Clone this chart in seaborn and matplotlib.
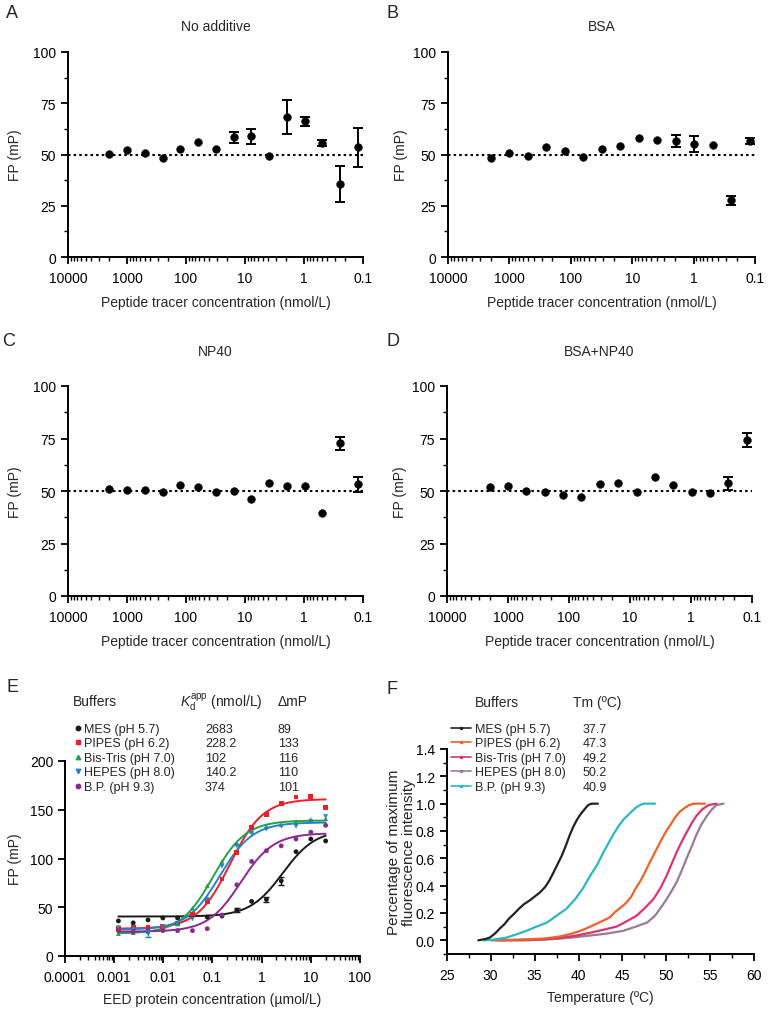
import numpy as np
import pandas as pd
import matplotlib
matplotlib.use("Agg")
import matplotlib.pyplot as plt
import seaborn as sns
from matplotlib.lines import Line2D
from matplotlib.ticker import (FixedLocator, FixedFormatter, LogLocator,
                               NullFormatter, MultipleLocator)

# ---------------- data ----------------
peptide_conc = [2000, 1000, 500, 250, 125, 62.5, 31.25, 15.63, 7.81, 3.91,
                1.95, 0.977, 0.488, 0.244, 0.122]
fp_none = [50.2, 52.3, 50.6, 48.1, 52.7, 55.9, 52.7, 58.3, 58.8, 49.1,
           68.1, 66.1, 55.6, 35.5, 53.5]
err_none = [0, 0, 0, 0, 0, 0, 0, 2.5, 3.5, 0, 8.3, 2.0, 1.5, 8.9, 9.6]
fp_bsa = [48.5, 50.6, 49.1, 53.8, 51.7, 48.8, 52.5, 54.3, 58.0, 57.1,
          56.7, 55.1, 54.6, 27.6, 56.4]
err_bsa = [0, 0, 0, 0, 0, 0, 0, 0, 0, 0, 3.0, 4.0, 0, 2.0, 1.5]
fp_np40 = [51.0, 50.3, 50.6, 49.5, 53.0, 51.7, 49.4, 50.2, 46.2, 53.7,
           52.2, 52.2, 39.5, 72.7, 53.2]
err_np40 = [0, 0, 0, 0, 0, 0, 0, 0, 0, 0, 0, 0, 0, 3.0, 3.5]
fp_bsa_np40 = [51.7, 52.5, 50.2, 49.7, 47.9, 47.3, 53.3, 54.0, 49.4, 56.8,
               52.9, 49.5, 49.0, 53.7, 74.3]
err_bsa_np40 = [0, 0, 0, 0, 0, 0, 0, 0, 0, 0, 0, 0, 0, 3.0, 3.5]
panel_titles = ["No additive", "BSA", "NP40", "BSA+NP40"]
peptide_ticks = [10000, 1000, 100, 10, 1, 0.1]
peptide_ticklabels = ["10000", "1000", "100", "10", "1", "0.1"]

# Panel E
buffers = ["MES (pH 5.7)", "PIPES (pH 6.2)", "Bis-Tris (pH 7.0)",
           "HEPES (pH 8.0)", "B.P. (pH 9.3)"]
kd_nM = [2683, 228.2, 102, 140.2, 374]
kd_labels = ["2683", "228.2", "102", "140.2", "374"]
delta_mP = [89, 133, 116, 110, 101]
fit_bottom = [40.5, 28, 23, 27, 25]
hill = 1.3
eed_conc = [0.00122, 0.00244, 0.00488, 0.00977, 0.0195, 0.0391, 0.0781,
            0.156, 0.3125, 0.625, 1.25, 2.5, 5, 10, 20]
fp_mes = [36, 34, 37, 39, 39, 42, 40, 41, 47, 56, 58, 77, 107, 120, 118]
fp_pipes = [28, 29, 29, 30, 33, 43, 56, 79, 106, 132, 145, 156, 163, 164, 152]
fp_bistris = [23, 24, 25, 28, 33, 49, 72, 97, 115, 128, 133, 135, 138, 140, 141]
fp_hepes = [29, 27, 23, 30, 33, 38, 58, 92, 113, 126, 130, 133, 133, 138, 143]
fp_bp = [26, 25, 26, 26, 26, 26, 28, 42, 73, 97, 108, 113, 120, 127, 134]
err_mes = [0, 0, 0, 0, 0, 0, 0, 0, 2, 0, 3, 4, 0, 0, 0]
err_hepes = [0, 0, 4, 0, 0, 0, 0, 0, 0, 0, 0, 0, 0, 0, 0]
eed_ticks = [0.0001, 0.001, 0.01, 0.1, 1, 10, 100]
eed_ticklabels = ["0.0001", "0.001", "0.01", "0.1", "1", "10", "100"]

# Panel F (thermal melt)
tm_labels = ["37.7", "47.3", "49.2", "50.2", "40.9"]
t_mes = [28.6, 29.4, 29.9, 30.5, 31.1, 31.6, 32.1, 32.6, 33.2, 33.8, 34.4, 35.0,
         35.6, 36.2, 36.7, 37.1, 37.6, 38.1, 38.6, 39.0, 39.4, 39.8, 40.2, 40.7,
         41.1, 41.5, 42.2]
f_mes = [0.0, 0.01, 0.02, 0.05, 0.09, 0.12, 0.16, 0.19, 0.23, 0.265, 0.29, 0.32,
         0.35, 0.39, 0.44, 0.49, 0.555, 0.62, 0.70, 0.77, 0.83, 0.88, 0.92, 0.96,
         0.99, 1.0, 1.0]
t_pipes = [30.0, 32.0, 34.0, 36.0, 37.0, 38.0, 39.0, 40.0, 41.0, 42.0, 43.0, 43.6,
           44.2, 45.0, 45.5, 46.0, 46.5, 47.0, 47.5, 48.1, 48.7, 49.3, 49.9, 50.4,
           51.0, 51.5, 52.1, 52.6, 53.1, 54.4]
f_pipes = [0.0, 0.003, 0.007, 0.013, 0.02, 0.03, 0.045, 0.065, 0.09, 0.12, 0.15,
           0.17, 0.21, 0.25, 0.28, 0.32, 0.38, 0.43, 0.49, 0.57, 0.645, 0.72, 0.79,
           0.84, 0.90, 0.94, 0.97, 0.99, 1.0, 1.0]
t_bistris = [30.5, 33.0, 35.0, 37.0, 38.0, 39.5, 41.3, 43.0, 44.3, 45.5, 46.6, 47.6,
             48.5, 49.3, 50.0, 50.6, 51.2, 51.8, 52.3, 52.9, 53.4, 54.1, 54.8, 55.7]
f_bistris = [0.0, 0.002, 0.005, 0.012, 0.02, 0.032, 0.055, 0.08, 0.10, 0.14, 0.18,
             0.24, 0.30, 0.38, 0.47, 0.56, 0.65, 0.73, 0.79, 0.86, 0.91, 0.96, 0.99, 1.0]
t_hepes = [31.0, 34.0, 36.0, 38.0, 39.5, 41.3, 43.3, 45.1, 46.5, 47.8, 48.7, 49.6,
           50.4, 51.2, 51.8, 52.3, 52.9, 53.4, 54.0, 54.6, 55.2, 55.7, 56.5]
f_hepes = [0.0, 0.0, 0.005, 0.013, 0.022, 0.035, 0.05, 0.07, 0.10, 0.13, 0.18, 0.26,
           0.34, 0.43, 0.52, 0.60, 0.69, 0.77, 0.85, 0.91, 0.96, 0.99, 1.0]
t_bp = [29.2, 30.0, 31.0, 31.8, 33.0, 34.1, 35.2, 36.4, 37.5, 38.6, 39.6, 40.5, 41.3,
        42.1, 42.8, 43.4, 44.0, 44.6, 45.2, 45.85, 46.5, 47.0, 47.4, 48.0, 48.7]
f_bp = [0.0, 0.003, 0.012, 0.02, 0.045, 0.07, 0.10, 0.13, 0.18, 0.23, 0.30, 0.38, 0.47,
        0.55, 0.64, 0.71, 0.78, 0.84, 0.89, 0.93, 0.97, 0.99, 1.0, 1.0, 1.0]

colors_E = ["#1a1a1a", "#e8202a", "#22a04a", "#2a80c8", "#8b2a8e"]
markers_E = ["o", "s", "^", "v", "o"]
colors_F = ["#222222", "#f0622a", "#e0336a", "#9a7a9a", "#2bb8c4"]

# ---------------- style ----------------
sns.set_theme(style="ticks")
plt.rcParams["font.family"] = ["Liberation Sans", "DejaVu Sans"]
plt.rcParams["mathtext.fontset"] = "custom"
plt.rcParams["mathtext.rm"] = "Liberation Sans"
plt.rcParams["mathtext.it"] = "Liberation Sans:italic"

W, H = 769, 1012
fig = plt.figure(figsize=(W / 100, H / 100), dpi=100)


def add_ax(l, t, r, b):
    return fig.add_axes([l / W, 1 - b / H, (r - l) / W, (b - t) / H])


def fig_text(x, y, s, **kw):
    fig.text(x / W, 1 - y / H, s, **kw)


def base_style(ax):
    sns.despine(ax=ax)
    for sp in ["left", "bottom"]:
        ax.spines[sp].set_linewidth(1.4)
        ax.spines[sp].set_color("black")
    ax.tick_params(which="major", length=5, width=1.3, direction="out",
                   labelsize=10, colors="black")
    ax.tick_params(axis="x", which="major", pad=5)
    ax.tick_params(axis="y", which="major", pad=3.5)
    ax.tick_params(which="minor", length=3, width=1.0, direction="out",
                   colors="black")
    ax.set_facecolor("white")
    ax.grid(False)


def log_x(ax, lo, hi, ticks, labels):
    ax.set_xscale("log")
    ax.set_xlim(lo, hi)
    ax.xaxis.set_major_locator(FixedLocator(ticks))
    ax.xaxis.set_major_formatter(FixedFormatter(labels))
    ax.xaxis.set_minor_locator(LogLocator(base=10, subs=np.arange(2, 10) * 1.0, numticks=100))
    ax.xaxis.set_minor_formatter(NullFormatter())


# ---------------- panels A-D ----------------
panels = [
    (fp_none, err_none, (68, 53, 363, 258), "A", (11.5, 13.5), 27, -0.156),
    (fp_bsa, err_bsa, (448, 53, 755, 258), "B", (392, 13.5), 27, -0.13),
    (fp_np40, err_np40, (68, 387, 363, 597), "C", (9, 342), 352, -0.156),
    (fp_bsa_np40, err_bsa_np40, (447, 387, 752, 597), "D", (393, 342), 352, -0.13),
]
for i, (vals, errs, box, letter, lpos, ty, ylc) in enumerate(panels):
    ax = add_ax(*box)
    df = pd.DataFrame({"conc": peptide_conc, "fp": vals, "err": errs})
    ax.axhline(50, color="black", lw=1.5, ls=(0, (1.2, 1.5)), zorder=1)
    de = df[df["err"] > 0]
    ax.errorbar(de["conc"], de["fp"], yerr=de["err"], fmt="none", ecolor="black",
                elinewidth=1.4, capsize=3.8, capthick=1.4, zorder=2)
    sns.scatterplot(data=df, x="conc", y="fp", ax=ax, color="black", s=32,
                    edgecolor="black", linewidth=0.3, zorder=3, legend=False)
    log_x(ax, 10000, 0.1, peptide_ticks, peptide_ticklabels)
    ax.set_ylim(0, 100)
    ax.yaxis.set_major_locator(FixedLocator([0, 25, 50, 75, 100]))
    ax.yaxis.set_minor_locator(MultipleLocator(12.5))
    base_style(ax)
    ax.set_xlabel("Peptide tracer concentration (nmol/L)", fontsize=10)
    ax.set_ylabel("FP (mP)", fontsize=10)
    hgt = box[3] - box[1]
    ax.xaxis.set_label_coords(0.5, -38 / hgt)
    ax.yaxis.set_label_coords(ylc, 0.5)
    fig_text((box[0] + box[2]) / 2, ty, panel_titles[i], ha="center", va="center",
             fontsize=10)
    fig_text(lpos[0], lpos[1], letter, ha="center", va="center", fontsize=13)

# ---------------- panel E ----------------
axE = add_ax(65, 762, 360, 957)
xfit = np.logspace(np.log10(eed_conc[0]), np.log10(eed_conc[-1]), 200)
series_E = [fp_mes, fp_pipes, fp_bistris, fp_hepes, fp_bp]
for k in range(5):
    kd = kd_nM[k] / 1000.0
    yfit = fit_bottom[k] + delta_mP[k] * xfit ** hill / (kd ** hill + xfit ** hill)
    sns.lineplot(x=xfit, y=yfit, ax=axE, color=colors_E[k], lw=1.4, zorder=2)
for k in range(5):
    dfk = pd.DataFrame({"conc": eed_conc, "fp": series_E[k]})
    sns.scatterplot(data=dfk, x="conc", y="fp", ax=axE, color=colors_E[k],
                    marker=markers_E[k], s=12, edgecolor="none", zorder=3,
                    legend=False)
for vals, errs, c in [(fp_mes, err_mes, colors_E[0]), (fp_hepes, err_hepes, colors_E[3])]:
    d = pd.DataFrame({"conc": eed_conc, "fp": vals, "err": errs})
    d = d[d["err"] > 0]
    axE.errorbar(d["conc"], d["fp"], yerr=d["err"], fmt="none", ecolor=c,
                 elinewidth=1.0, capsize=2, capthick=1.0, zorder=3)
log_x(axE, 0.0001, 100, eed_ticks, eed_ticklabels)
axE.set_ylim(0, 200)
axE.yaxis.set_major_locator(FixedLocator([0, 50, 100, 150, 200]))
base_style(axE)
axE.set_xlabel("EED protein concentration (\u00b5mol/L)", fontsize=10)
axE.set_ylabel("FP (mP)", fontsize=10)
axE.xaxis.set_label_coords(0.5, -36 / 195)
axE.yaxis.set_label_coords(-0.146, 0.5)

# legend E
hE = [Line2D([], [], ls="none", marker=markers_E[k], color=colors_E[k], markersize=3.2)
      for k in range(5)]
blank = [Line2D([], [], ls="none") for _ in range(5)]
leg_kw = dict(frameon=False, fontsize=9, borderpad=0, borderaxespad=0,
              labelspacing=0.2, bbox_transform=fig.transFigure, loc="upper left")
l1 = axE.legend(hE, buffers, bbox_to_anchor=(74.5 / W, 1 - 724 / H),
                handlelength=0.5, handletextpad=0.25, **leg_kw)
axE.add_artist(l1)
l2 = axE.legend(blank, kd_labels, bbox_to_anchor=(205 / W, 1 - 724 / H),
                handlelength=0, handletextpad=0, **leg_kw)
axE.add_artist(l2)
axE.legend(blank, [str(v) for v in delta_mP], bbox_to_anchor=(278 / W, 1 - 724 / H),
           handlelength=0, handletextpad=0, **leg_kw)
fig_text(73, 702, "Buffers", ha="left", va="center", fontsize=10)
fig_text(180, 702, r"$K_\mathregular{d}^\mathregular{app}$ (nmol/L)", ha="left",
         va="center", fontsize=10)
fig_text(278, 702, "\u0394mP", ha="left", va="center", fontsize=10)
fig_text(12, 688, "E", ha="center", va="center", fontsize=13)

# ---------------- panel F ----------------
axF = add_ax(446.7, 750, 754.3, 955)
series_F = [(t_mes, f_mes), (t_pipes, f_pipes), (t_bistris, f_bistris),
            (t_hepes, f_hepes), (t_bp, f_bp)]
for k in [3, 2, 1, 4, 0]:
    t, f = series_F[k]
    sns.lineplot(x=t, y=f, ax=axF, color=colors_F[k], lw=1.6, sort=False, zorder=2)
axF.set_xlim(25, 60)
axF.set_ylim(-0.1, 1.4)
axF.xaxis.set_major_locator(MultipleLocator(5))
axF.xaxis.set_minor_locator(MultipleLocator(2.5))
axF.yaxis.set_major_locator(FixedLocator([0, 0.2, 0.4, 0.6, 0.8, 1.0, 1.2, 1.4]))
axF.yaxis.set_major_formatter(FixedFormatter(["0.0", "0.2", "0.4", "0.6", "0.8",
                                              "1.0", "1.2", "1.4"]))
axF.yaxis.set_minor_locator(FixedLocator(np.round(np.arange(-0.1, 1.41, 0.1), 2)))
base_style(axF)
axF.set_xlabel("Temperature (\u00baC)", fontsize=10)
axF.set_ylabel("Percentage of maximum\nfluorescence intensity", fontsize=11,
               linespacing=1.05)
axF.xaxis.set_label_coords(0.5, -36 / 205)
axF.yaxis.set_label_coords(-0.100, 0.5)

hF = [Line2D([], [], color=colors_F[k], lw=1.2, marker=".", markersize=3)
      for k in range(5)]
l3 = axF.legend(hF, buffers, bbox_to_anchor=(451 / W, 1 - 724 / H),
                handlelength=1.6, handletextpad=0.3, **leg_kw)
axF.add_artist(l3)
axF.legend(blank, tm_labels, bbox_to_anchor=(583 / W, 1 - 724 / H),
           handlelength=0, handletextpad=0, **leg_kw)
fig_text(475, 703, "Buffers", ha="left", va="center", fontsize=10)
fig_text(573, 703, "Tm (\u00baC)", ha="left", va="center", fontsize=10)
fig_text(392, 690, "F", ha="center", va="center", fontsize=13)

fig.savefig("out.png", dpi=100, facecolor="white")
